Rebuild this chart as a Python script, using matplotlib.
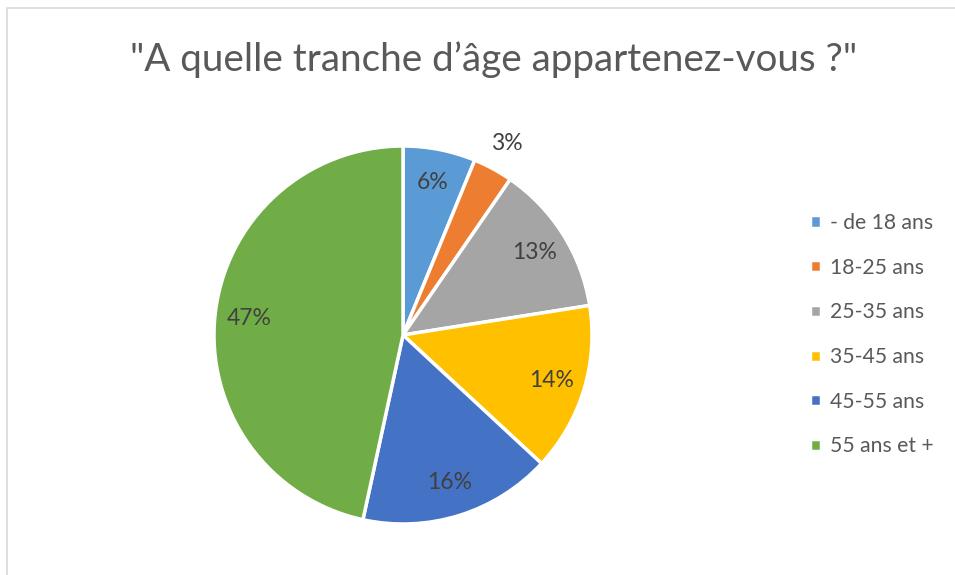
import numpy as np
import matplotlib.pyplot as plt
from matplotlib.patches import Rectangle

# Age groups and shares (%)
categories = ["- de 18 ans", "18-25 ans", "25-35 ans", "35-45 ans", "45-55 ans", "55 ans et +"]
shares = [6.2, 3.4, 12.9, 14.4, 16.5, 46.6]
colors = ["#5B9BD5", "#ED7D31", "#A5A5A5", "#FFC000", "#4472C4", "#70AD47"]

plt.rcParams["font.family"] = ["Lato", "DejaVu Sans"]

W, H = 955, 575
fig = plt.figure(figsize=(W / 100, H / 100), dpi=100)

# light grey chart frame (left and top edges visible)
fig.patches.append(Rectangle((7 / W, -0.1), 1.2, (H - 8) / H + 0.1, transform=fig.transFigure,
                             fill=False, edgecolor="#D9D9D9", linewidth=1.2))

cx, cy, R = 403, H - 335, 189
ax = fig.add_axes([(cx - R) / W, (cy - R) / H, 2 * R / W, 2 * R / H])

wedges, texts, autotexts = ax.pie(
    shares, colors=colors, startangle=90, counterclock=False,
    autopct=lambda p: f"{p:.0f}%", pctdistance=0.82,
    wedgeprops=dict(edgecolor="white", linewidth=2.5),
    textprops=dict(color="#404040", fontsize=16.5))
ax.set_xlim(-1, 1)
ax.set_ylim(-1, 1)

# the small slice label sits outside the pie
w = wedges[1]
ang = np.deg2rad((w.theta1 + w.theta2) / 2)
autotexts[1].set_position((1.15 * np.cos(ang), 1.15 * np.sin(ang)))

fig.text(494 / W, 1 - 60 / H, '"A quelle tranche d’âge appartenez-vous ?"',
         ha="center", va="center", fontsize=27.8, color="#595959")

leg = fig.legend(wedges, categories, loc="upper left", bbox_to_anchor=(791 / W, 1 - 194 / H),
                 frameon=False, fontsize=15.2, labelcolor="#595959",
                 handlelength=0.5, handleheight=0.5, handletextpad=0.45, labelspacing=1.17)

fig.savefig("out.png", dpi=100)
